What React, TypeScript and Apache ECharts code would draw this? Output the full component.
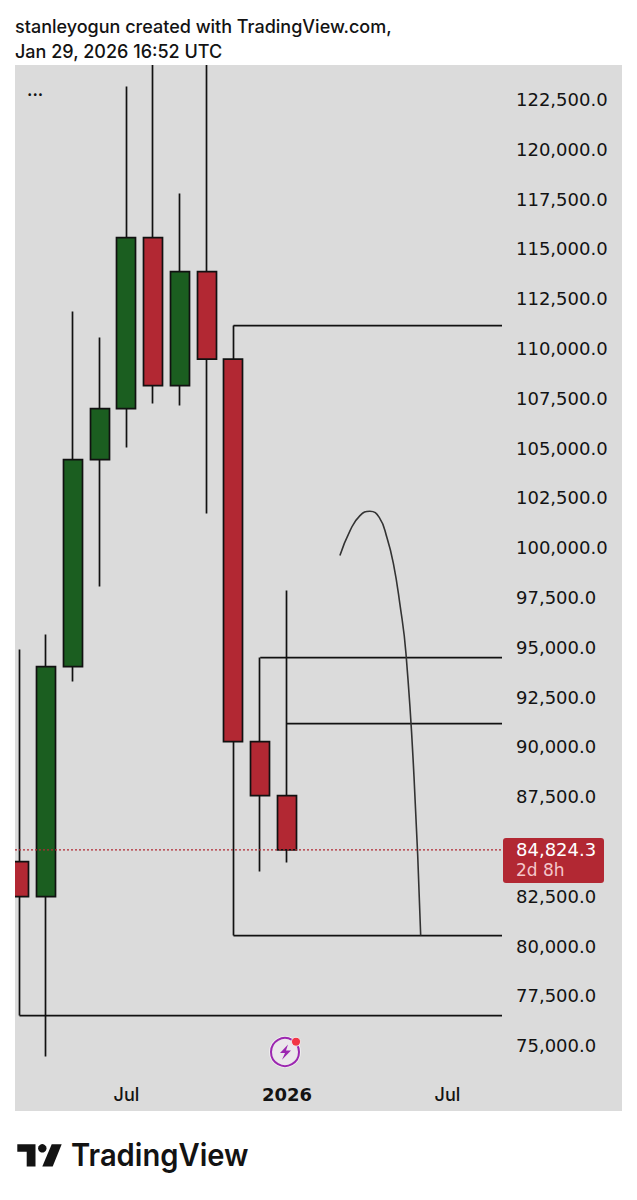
import React, { useEffect, useRef } from "react";
import * as echarts from "echarts";

const months = [0, 1, 2, 3, 4, 5, 6, 7, 8, 9, 10];
const opens = [84240, 82483, 94031, 104424, 106985, 115571, 108140, 113864, 109470, 90265, 87554];
const closes = [82483, 94031, 104424, 106985, 115571, 108140, 113864, 109470, 90265, 87554, 84824.3];
const lows = [76508, 74449, 93278, 98048, 105027, 107236, 107136, 101713, 80524, 83738, 84190];
const highs = [94884, 95638, 111855, 110550, 123153, 124500, 117780, 126200, 111153, 94483, 97847];

const priceTicks = [75000, 77500, 80000, 82500, 87500, 90000, 92500, 95000, 97500, 100000, 102500, 105000, 107500, 110000, 112500, 115000, 117500, 120000, 122500];
const timeTicks = [4, 10, 16];
const timeLabels: Record<number, string> = { 4: "Jul", 10: "2026", 16: "Jul" };

const level1 = [[0, 76508], [18.04, 76508]];
const level2 = [[8, 111153], [18.04, 111153]];
const level3 = [[8, 80524], [18.04, 80524]];
const level4 = [[9, 94483], [18.04, 94483]];
const level5 = [[10, 91169], [18.04, 91169]];
const lastPrice = [[-0.168, 84824.3], [18.04, 84824.3]];
const arcX = [11.98, 12.36, 12.73, 13.1, 13.45, 13.74, 13.98, 14.22, 14.45, 14.75, 15.0];
const arcY = [99604, 100860, 101613, 101829, 101520, 100500, 99200, 97194, 94684, 88500, 80524];
const arc = arcX.map((x, i) => [x, arcY[i]]);

const BG = "#dbdbdb";
const GREEN = "#1b5e20";
const RED = "#b22833";
const INK = "#131313";
const FONT = "Inter, 'Liberation Sans', sans-serif";
const NUM_FONT = "'DejaVu Sans', sans-serif";

const boltShape = echarts.graphic.extendPath("M9 0 L1 10 L6 10 L3 18 L12 7 L7 7 Z", {});
echarts.graphic.registerShape("bolt", boltShape);

const levelSeries = (name: string, data: number[][]) => ({
  type: "line",
  name,
  data,
  symbol: "none",
  lineStyle: { color: "#111111", width: 1.7 },
  z: 1,
});

export default function App() {
  const ref = useRef<HTMLDivElement>(null);
  useEffect(() => {
    const chart = echarts.init(ref.current!, undefined, { renderer: "svg" });
    chart.setOption({
      animation: false,
      backgroundColor: "#ffffff",
      title: [
        { text: "stanleyogun created with TradingView.com,", left: 10, top: 12, z: 20, textStyle: { fontFamily: FONT, fontSize: 18, fontWeight: 500, color: INK } },
        { text: "Jan 29, 2026 16:52 UTC", left: 10, top: 37, z: 20, textStyle: { fontFamily: FONT, fontSize: 18, fontWeight: 500, color: INK } },
      ],
      grid: { left: 15, top: 65, width: 487, height: 1014, containLabel: false },
      xAxis: {
        type: "value",
        min: -0.168,
        max: 18.04,
        splitLine: { show: false },
        axisLine: { show: false },
        axisTick: { show: false },
        axisLabel: {
          customValues: timeTicks,
          margin: 6,
          formatter: (v: number) => (v === 10 ? `{b|${timeLabels[v]}}` : `{n|${timeLabels[v]}}`),
          rich: {
            n: { fontFamily: FONT, fontSize: 18, fontWeight: 500, color: INK },
            b: { fontFamily: NUM_FONT, fontSize: 18, fontWeight: 700, color: INK },
          },
        },
      },
      yAxis: {
        type: "value",
        position: "right",
        min: 73323,
        max: 124237,
        scale: true,
        splitLine: { show: false },
        axisLine: { show: false },
        axisTick: { show: false },
        axisLabel: {
          customValues: priceTicks,
          margin: 14,
          fontFamily: NUM_FONT,
          fontSize: 18,
          color: INK,
          align: "left",
          formatter: (v: number) => v.toLocaleString("en-US", { minimumFractionDigits: 1, maximumFractionDigits: 1 }),
        },
      },
      series: [
        {
          type: "candlestick",
          name: "BTC monthly",
          barWidth: 19.5,
          data: months.map((m, i) => [m, opens[i], closes[i], lows[i], highs[i]]),
          itemStyle: { color: GREEN, color0: RED, borderColor: "#111111", borderColor0: "#111111", borderWidth: 1.7 },
          z: 3,
        },
        levelSeries("Level 1", level1),
        levelSeries("Level 2", level2),
        levelSeries("Level 3", level3),
        levelSeries("Level 4", level4),
        levelSeries("Level 5", level5),
        { type: "line", name: "Last price", data: lastPrice, symbol: "none", lineStyle: { color: RED, width: 1.2, type: [2, 2] }, z: 4 },
        { type: "line", name: "Projection", data: arc, smooth: 0.5, symbol: "none", lineStyle: { color: "#333333", width: 1.6 }, z: 2 },
      ],
      graphic: [
        { type: "rect", z: -10, silent: true, shape: { x: 15, y: 65, width: 607, height: 1046 }, style: { fill: BG } },
        { type: "rect", z: 8, silent: true, shape: { x: 0, y: 0, width: 637, height: 65 }, style: { fill: "#ffffff" } },
        { type: "rect", z: 8, silent: true, shape: { x: 0, y: 65, width: 15, height: 1046 }, style: { fill: "#ffffff" } },
        { type: "text", x: 27, y: 81, z: 10, style: { text: "...", fontFamily: FONT, fontSize: 17, fontWeight: 600, fill: INK } },
        { type: "rect", z: 10, shape: { x: 503, y: 838, width: 101, height: 45, r: 3 }, style: { fill: RED } },
        { type: "text", x: 516, y: 849.5, z: 11, style: { text: "84,824.3", fontFamily: NUM_FONT, fontSize: 18, fill: "#ffffff", verticalAlign: "middle" } },
        { type: "text", x: 516, y: 870, z: 11, style: { text: "2d 8h", fontFamily: NUM_FONT, fontSize: 17, fill: "#f4c6ca", verticalAlign: "middle" } },
        { type: "circle", z: 10, shape: { cx: 285, cy: 1052, r: 16 }, style: { fill: "#f1eff1" } },
        { type: "circle", z: 11, shape: { cx: 285, cy: 1052, r: 14 }, style: { fill: "#ebe7eb", stroke: "#9c27b0", lineWidth: 2 } },
        { type: "bolt", x: 279, y: 1044.5, scaleX: 1, scaleY: 0.85, z: 12, style: { fill: "#9c27b0" } },
        { type: "circle", z: 13, shape: { cx: 296, cy: 1041.7, r: 4.5 }, style: { fill: "#f23645", stroke: "#f1eff1", lineWidth: 1 } },
        { type: "polygon", z: 10, shape: { points: [[17.3, 1144.3], [35.5, 1144.3], [35.5, 1166.5], [26.7, 1166.5], [26.7, 1151.7], [17.3, 1151.7]] }, style: { fill: INK } },
        { type: "circle", z: 10, shape: { cx: 42.3, cy: 1148.3, r: 4.2 }, style: { fill: INK } },
        { type: "polygon", z: 10, shape: { points: [[51.7, 1144.3], [61.7, 1144.3], [52.7, 1166.5], [42.3, 1166.5]] }, style: { fill: INK } },
        { type: "text", x: 71, y: 1139, scaleX: 0.94, z: 10, style: { text: "TradingView", fontFamily: FONT, fontSize: 31, fontWeight: 600, fill: INK } },
      ],
    });
    return () => chart.dispose();
  }, []);
  return <div ref={ref} style={{ position: "absolute", left: 0, top: 0, width: 637, height: 1200 }} />;
}
